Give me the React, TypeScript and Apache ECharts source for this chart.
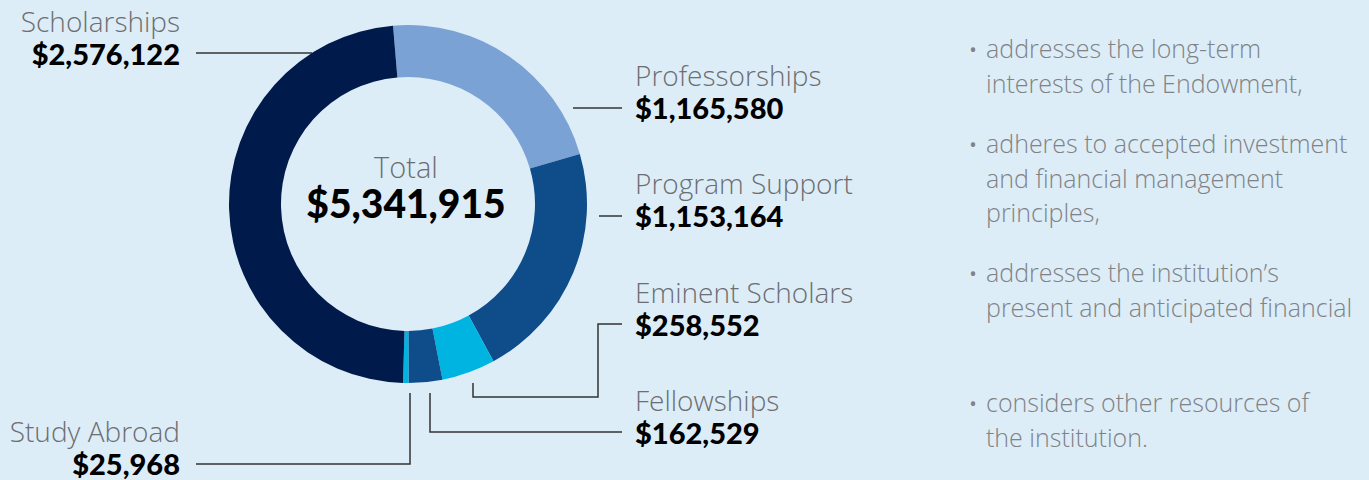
import React, { useEffect, useRef } from "react";
import * as echarts from "echarts";

const categories = ["Professorships", "Program Support", "Eminent Scholars", "Fellowships", "Study Abroad", "Scholarships"];
const values = [1165580, 1153164, 258552, 162529, 25968, 2576122];
const sliceColors = ["#7aa2d4", "#0e4c8a", "#00b4e1", "#0e4c8a", "#00b4e1", "#001b4b"];
const bullets = [
  ["addresses the long-term", "interests of the Endowment,"],
  ["adheres to accepted investment", "and financial management", "principles,"],
  ["addresses the institution\u2019s", "present and anticipated financial"],
  ["considers other resources of", "the institution."],
];

// layout (positions only)
const labelPos: Record<string, { x: number; y: number; align: string; line: number[][] }> = {
  Professorships: { x: 635, y: 91, align: "left", line: [[573, 108], [598, 108], [622, 108]] },
  "Program Support": { x: 635, y: 199, align: "left", line: [[599, 216], [610, 216], [622, 216]] },
  "Eminent Scholars": { x: 635, y: 308, align: "left", line: [[473, 383], [473, 397], [598, 397], [598, 324], [622, 324]] },
  Fellowships: { x: 635, y: 416, align: "left", line: [[430, 393], [430, 432], [622, 432]] },
  "Study Abroad": { x: 180, y: 447, align: "right", line: [[410, 393], [410, 464], [196, 464]] },
  Scholarships: { x: 180, y: 37, align: "right", line: [[312, 53], [254, 53], [196, 53]] },
};
const bulletTop = [48, 143, 272, 402];

const fmt = (v: number) => "$" + v.toLocaleString("en-US");
const LIGHT = "'Open Sans', 'Noto Sans', sans-serif";
const BOLD = "Lato, 'Open Sans', sans-serif";

export default function App() {
  const ref = useRef<HTMLDivElement>(null);
  useEffect(() => {
    const chart = echarts.init(ref.current!, null, { renderer: "svg" });
    const total = values.reduce((a, b) => a + b, 0);
    const graphics: any[] = [
      {
        type: "text",
        x: 406,
        y: 149,
        style: {
          text: `{t|Total}\n{v|${fmt(total)}}`,
          align: "center",
          verticalAlign: "top",
          rich: {
            t: { fontFamily: LIGHT, fontWeight: 300, fontSize: 29, fill: "#6d6e71", lineHeight: 34, align: "center" },
            v: { fontFamily: BOLD, fontWeight: 900, fontSize: 39, fill: "#000", lineHeight: 40, align: "center" },
          },
        },
      },
    ];
    bullets.forEach((lines, i) => {
      graphics.push({
        type: "text",
        x: 973,
        y: bulletTop[i] + 1,
        style: { text: "\u2022", font: `400 20px ${LIGHT}`, fill: "#808285", align: "center", verticalAlign: "middle" },
      });
      lines.forEach((ln, j) => {
        graphics.push({
          type: "text",
          x: 986,
          y: bulletTop[i] + j * 34.5,
          style: { text: ln, font: `300 25px ${LIGHT}`, fill: "#808285", align: "left", verticalAlign: "middle" },
        });
      });
    });

    chart.setOption({
      animation: false,
      backgroundColor: "#dcedf8",
      graphic: graphics,
      series: [
        {
          type: "pie",
          center: [408, 204],
          radius: [127, 179],
          startAngle: 94.8,
          clockwise: true,
          silent: true,
          avoidLabelOverlap: false,
          data: categories.map((c, i) => ({ name: c, value: values[i], itemStyle: { color: sliceColors[i] } })),
          label: {
            show: true,
            position: "outer",
            formatter: (p: any) => `{n|${p.name}}\n{v|${fmt(p.value)}}`,
            rich: {
              n: { fontFamily: LIGHT, fontWeight: 300, fontSize: 28, color: "#6d6e71", lineHeight: 32 },
              v: { fontFamily: BOLD, fontWeight: 900, fontSize: 29, color: "#000", lineHeight: 32 },
            },
          },
          labelLine: { show: true, lineStyle: { color: "#333", width: 1.5 } },
          labelLayout: (p: any) => {
            const l = labelPos[categories[p.dataIndex]];
            return { x: l.x, y: l.y, align: l.align, verticalAlign: "middle", labelLinePoints: l.line };
          },
        },
      ],
    });
    return () => chart.dispose();
  }, []);
  return <div ref={ref} style={{ position: "fixed", left: 0, top: 0, width: 1369, height: 480 }} />;
}
